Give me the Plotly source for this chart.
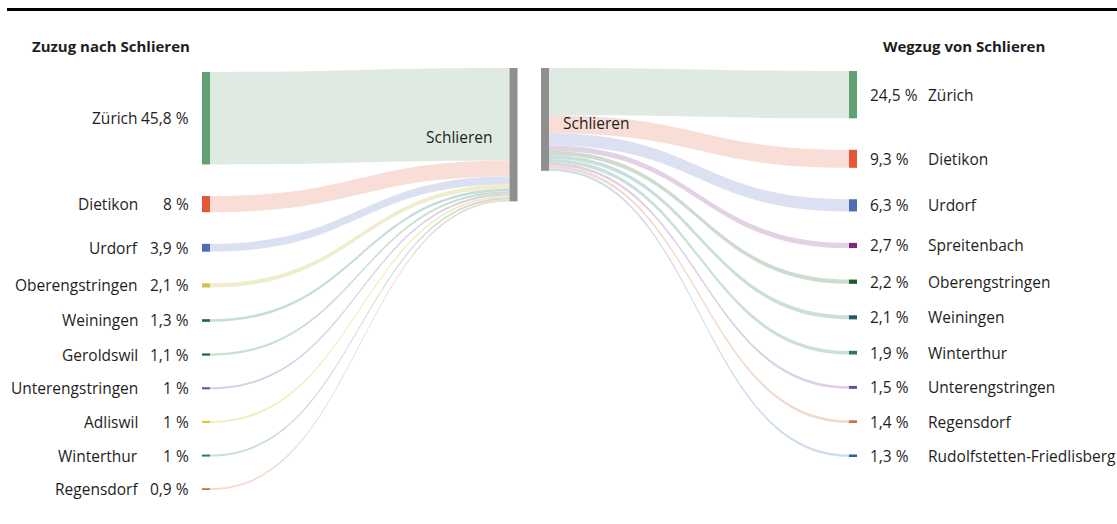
import plotly.graph_objects as go

# Zuzug nach Schlieren: Herkunftsorte und Anteil in %
zuzug_orte = ["Zürich", "Dietikon", "Urdorf", "Oberengstringen", "Weiningen",
              "Geroldswil", "Unterengstringen", "Adliswil", "Winterthur", "Regensdorf"]
zuzug_anteil = [45.8, 8, 3.9, 2.1, 1.3, 1.1, 1, 1, 1, 0.9]
zuzug_farben = ["#63a172", "#e55636", "#4f6db5", "#cfc44a", "#1b6062",
                "#1d6a3b", "#6b4aa0", "#e5bd2f", "#2a7a5d", "#c8724b"]
zuzug_flussfarben = ["#dfeae2", "#f9ddd7", "#dbe1f0", "#efedcb", "#c6dcdc",
                     "#c9e0cc", "#ddcde6", "#f4ecc0", "#c9e0d7", "#f1d9cd"]

# Wegzug von Schlieren: Zielorte und Anteil in %
wegzug_orte = ["Zürich", "Dietikon", "Urdorf", "Spreitenbach", "Oberengstringen",
               "Weiningen", "Winterthur", "Unterengstringen", "Regensdorf",
               "Rudolfstetten-Friedlisberg"]
wegzug_anteil = [24.5, 9.3, 6.3, 2.7, 2.2, 2.1, 1.9, 1.5, 1.4, 1.3]
wegzug_farben = ["#63a172", "#e55636", "#4f6db5", "#7e2a7c", "#1e5a2e",
                 "#1b6062", "#2a7a5d", "#6b4aa0", "#c8724b", "#2b63a0"]
wegzug_flussfarben = ["#dfeae2", "#f9ddd7", "#dbe1f0", "#e3d1e4", "#cddccf",
                      "#c9dede", "#cbe1d8", "#dfcfe7", "#f1d9cd", "#cfdded"]

GEMEINDE = "Schlieren"
GEMEINDE_FARBE = "#8f8f8f"

W, H = 1117, 524
FONT = "Open Sans"
TEXT = "#1e1e1e"
NODE_T = 8

# Panel geometry in pixels.
#   x0/x1      outer edges of the two node columns
#   top/bottom extent of the stacked column of places
#   dom_*      sankey domain (its height and the node pad set the value scale)
#   gem_top    top edge of the Schlieren node
LINKS = dict(x0=202, x1=517.5, top=72, bottom=490, dom_top=91, dom_bottom=471,
             pad=27.4, gem_top=68)
RECHTS = dict(x0=541, x1=857, top=71, bottom=457, dom_top=119, dom_bottom=409,
              pad=20.8, gem_top=68)


def pct(v):
    return f"{v:g} %".replace(".", ",")


def layout_panel(g, values):
    """Value scale as the sankey layout computes it, and stacked node centres."""
    n = len(values)
    total = sum(values)
    dom_h = g["dom_bottom"] - g["dom_top"]
    pad = min(g["pad"], 2 / 3 * dom_h / (n - 1))
    ky = (dom_h - (n - 1) * pad) / total
    gap = (g["bottom"] - g["top"] - total * ky) / (n - 1)
    mitten, y = [], g["top"]
    for v in values:
        h = v * ky
        mitten.append(y + h / 2)
        y += h + gap
    gem_mitte = g["gem_top"] + total * ky / 2
    return mitten, gem_mitte, dom_h


def domain(g):
    return dict(x=[g["x0"] / W, g["x1"] / W],
                y=[1 - g["dom_bottom"] / H, 1 - g["dom_top"] / H])


fig = go.Figure()

# ---- left diagram: flows into Schlieren ----
mitten_l, gem_l, dom_h_l = layout_panel(LINKS, zuzug_anteil)
breite_l = LINKS["x1"] - LINKS["x0"]
x_links = NODE_T / 2 / breite_l
x_rechts_l = 1 - NODE_T / 2 / breite_l

fig.add_trace(go.Sankey(
    domain=domain(LINKS),
    arrangement="fixed",
    node=dict(
        label=[GEMEINDE] + zuzug_orte,
        color=[GEMEINDE_FARBE] + zuzug_farben,
        thickness=NODE_T,
        pad=LINKS["pad"],
        line=dict(width=0),
        x=[x_rechts_l] + [x_links] * len(zuzug_orte),
        y=[(c - LINKS["dom_top"]) / dom_h_l for c in [gem_l] + mitten_l],
    ),
    link=dict(
        source=list(range(1, len(zuzug_orte) + 1)),
        target=[0] * len(zuzug_orte),
        value=zuzug_anteil,
        color=zuzug_flussfarben,
        line=dict(width=0),
    ),
    textfont=dict(color="rgba(0,0,0,0)", size=1),
))

# ---- right diagram: flows out of Schlieren ----
mitten_r, gem_r, dom_h_r = layout_panel(RECHTS, wegzug_anteil)
breite_r = RECHTS["x1"] - RECHTS["x0"]
x_links_r = NODE_T / 2 / breite_r
x_rechts = 1 - NODE_T / 2 / breite_r

fig.add_trace(go.Sankey(
    domain=domain(RECHTS),
    arrangement="fixed",
    node=dict(
        label=[GEMEINDE] + wegzug_orte,
        color=[GEMEINDE_FARBE] + wegzug_farben,
        thickness=NODE_T,
        pad=RECHTS["pad"],
        line=dict(width=0),
        x=[x_links_r] + [x_rechts] * len(wegzug_orte),
        y=[(c - RECHTS["dom_top"]) / dom_h_r for c in [gem_r] + mitten_r],
    ),
    link=dict(
        source=[0] * len(wegzug_orte),
        target=list(range(1, len(wegzug_orte) + 1)),
        value=wegzug_anteil,
        color=wegzug_flussfarben,
        line=dict(width=0),
    ),
    textfont=dict(color="rgba(0,0,0,0)", size=1),
))

annotations = []


def text(x, y, s, anchor, size=15.5, bold=False):
    annotations.append(dict(
        x=x / W, y=1 - y / H, xref="paper", yref="paper",
        text=f"<b>{s}</b>" if bold else s,
        showarrow=False, xanchor=anchor, yanchor="middle", borderpad=0,
        font=dict(family=FONT, size=size, color=TEXT),
    ))


for ort, wert, y in zip(zuzug_orte, zuzug_anteil, mitten_l):
    text(139, y, ort, "right")
    text(190, y, pct(wert), "right")

for ort, wert, y in zip(wegzug_orte, wegzug_anteil, mitten_r):
    text(869, y, pct(wert), "left")
    text(927, y, ort, "left")

text(494, 137, GEMEINDE, "right")
text(562, 123, GEMEINDE, "left")

text(31, 46, "Zuzug nach Schlieren", "left", size=15, bold=True)
text(1046, 46, "Wegzug von Schlieren", "right", size=15, bold=True)

fig.update_layout(
    width=W, height=H,
    margin=dict(l=0, r=0, t=0, b=0),
    paper_bgcolor="white",
    plot_bgcolor="white",
    font=dict(family=FONT, color=TEXT),
    annotations=annotations,
    shapes=[dict(type="line", xref="paper", yref="paper",
                 x0=7 / W, x1=1, y0=1 - 9.5 / H, y1=1 - 9.5 / H,
                 line=dict(color="black", width=3))],
)

fig.write_html("out.html")
